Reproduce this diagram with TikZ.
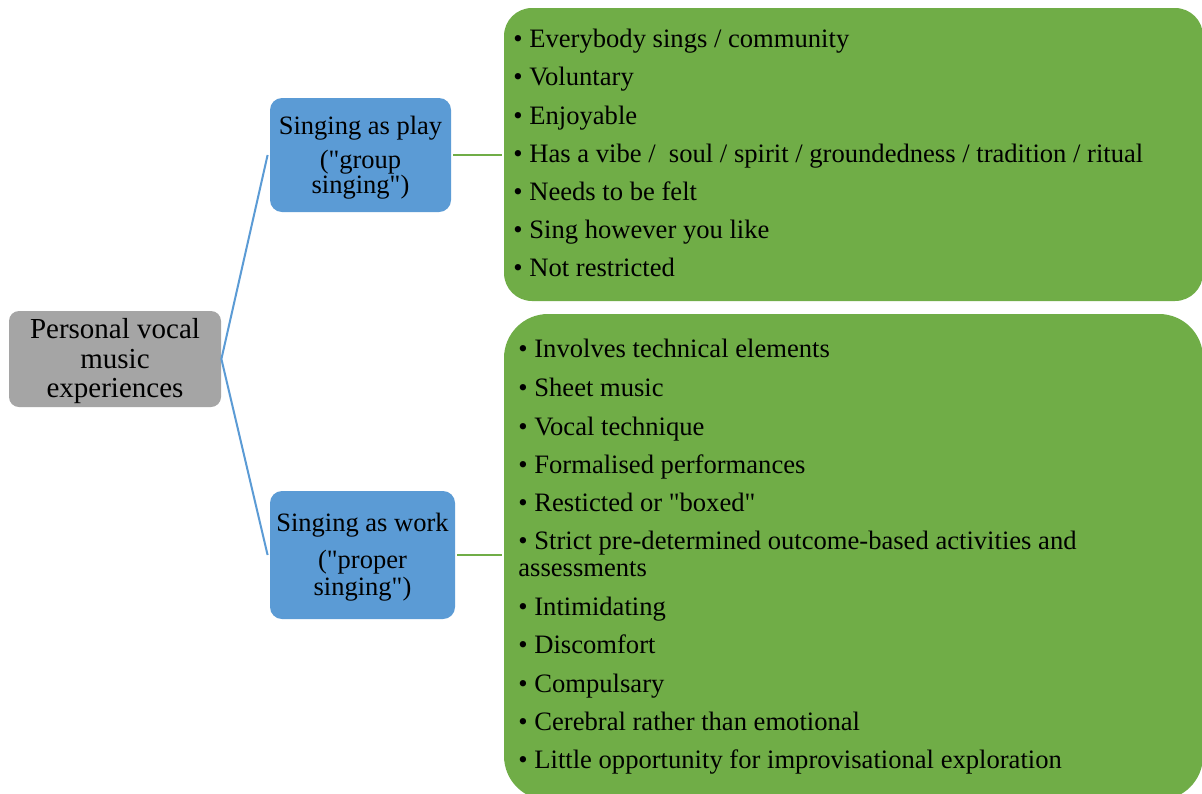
\documentclass[tikz,border=0pt]{standalone}
\usepackage{fontspec}
\setmainfont{Liberation Serif}
% plain font instance without the TeX quote mapping, for straight double quotes
\font\plainquotefont="Liberation Serif" at 13.25pt
\newcommand{\dq}{{\plainquotefont\char"22}}
\definecolor{boxgreen}{HTML}{70AD47}
\definecolor{boxblue}{HTML}{5B9BD5}
\definecolor{boxgray}{HTML}{A5A5A5}
\begin{document}
\begin{tikzpicture}[x=0.5pt,y=-0.5pt,
  rootbox/.style={fill=boxgray, rounded corners=5pt, minimum width=106pt, minimum height=48pt, inner sep=0},
  catbox/.style={fill=boxblue, rounded corners=6pt, inner sep=0},
  listbox/.style={fill=boxgreen, inner sep=0, minimum width=349.5pt},
  txt/.style={inner sep=0, font=\fontsize{13.25}{15}\selectfont},
  listtxt/.style={inner sep=0, font=\fontsize{13.3}{15}\selectfont},
  item/.style={listtxt, anchor=base west},
  ctr/.style={txt, anchor=base},
  link/.style={line width=1pt}
]
\useasboundingbox (0,0) rectangle (1202,793);
\fill[white] (0,0) rectangle (1202,793);

% boxes
\node[rootbox] (root) at (115,359) {};
\node[catbox, minimum width=90.5pt, minimum height=57pt] (play) at (360.5,155) {};
\node[catbox, minimum width=92.5pt, minimum height=64pt] (work) at (362.5,555) {};
\node[listbox, rounded corners=14pt, minimum height=146.5pt] (playlist) at (853.5,154.5) {};
\node[listbox, rounded corners=22pt, minimum height=243pt] (worklist) at (853.5,557) {};

% connectors
\draw[link, boxblue] (root.east) -- ([xshift=-1pt]play.west);
\draw[link, boxblue] (root.east) -- ([xshift=-1pt]work.west);
\draw[link, boxgreen] ([xshift=1pt]play.east) -- ([xshift=-1pt]play.east -| playlist.west);
\draw[link, boxgreen] ([xshift=1pt]work.east) -- ([xshift=-1pt]work.east -| worklist.west);

% root text
\begin{scope}[every node/.style={ctr, font=\fontsize{14.5}{16}\selectfont}]
\node (r1) at (115,338) {Personal vocal};
\node (r2) at (115,368) {music};
\node (r3) at (115,397) {experiences};
\end{scope}

% category texts
\node[ctr] (p1) at (360.5,134) {Singing as play};
\node[ctr] (p2) at (360.5,168) {(\dq group};
\node[ctr] (p3) at (360.5,193) {singing\dq)};
\node[ctr] (w1) at (362.5,531) {Singing as work};
\node[ctr] (w2) at (362.5,568) {(\dq proper};
\node[ctr] (w3) at (362.5,595) {singing\dq)};

% list of the first category
\node[item] (a1) at (513,47)  {• Everybody sings / community};
\node[item] (a2) at (513,85)  {• Voluntary};
\node[item] (a3) at (513,124) {• Enjoyable};
\node[item] (a4) at (513,162) {• Has a vibe /~ soul / spirit / groundedness / tradition / ritual};
\node[item] (a5) at (513,200) {• Needs to be felt};
\node[item] (a6) at (513,238) {• Sing however you like};
\node[item] (a7) at (513,276) {• Not restricted};

% list of the second category
\node[item] (b1) at (518,357) {• Involves technical elements};
\node[item] (b2) at (518,396) {• Sheet music};
\node[item] (b3) at (518,435) {• Vocal technique};
\node[item] (b4) at (518,473) {• Formalised performances};
\node[item] (b5) at (518,511) {• Resticted or \dq boxed\dq};
\node[item] (b6) at (518,549) {• Strict pre-determined outcome-based activities and};
\node[item] (b7) at (518,576) {assessments};
\node[item] (b8) at (518,615) {• Intimidating};
\node[item] (b9) at (518,653) {• Discomfort};
\node[item] (b10) at (518,692) {• Compulsary};
\node[item] (b11) at (518,730) {• Cerebral rather than emotional};
\node[item] (b12) at (518,768) {• Little opportunity for improvisational exploration};
\end{tikzpicture}
\end{document}
